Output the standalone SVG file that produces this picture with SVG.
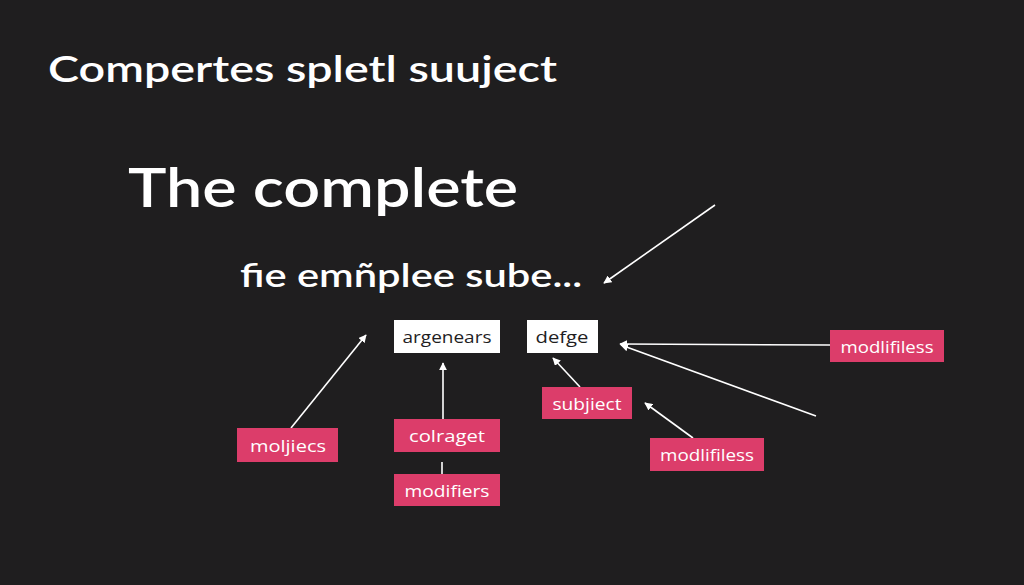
<svg xmlns="http://www.w3.org/2000/svg" width="1024" height="585" viewBox="0 0 1024 585">
<style>
.bg{fill:#1f1e1f}
.h{fill:#ffffff;font-family:Lato,"Open Sans",sans-serif;font-weight:600}
.wbox{fill:#ffffff}
.pbox{fill:#dc3d6a}
.wt{fill:#1f1e1f;font-family:"Open Sans",Lato,sans-serif;font-size:17px;text-anchor:middle}
.pt{fill:#ffffff;font-family:"Open Sans",Lato,sans-serif;font-size:17px;text-anchor:middle}
.c{stroke:#ffffff;stroke-width:1.6;fill:none}
</style>
<defs>
<marker id="ah" viewBox="0 0 10 10" refX="9" refY="5" markerWidth="8" markerHeight="8" markerUnits="userSpaceOnUse" orient="auto">
<path d="M0,0 L10,5 L0,10 z" fill="#ffffff"/>
</marker>
</defs>
<rect class="bg" x="0" y="0" width="1024" height="585"/>
<g id="titles">
<text class="h" x="48" y="82" font-size="36" textLength="509" lengthAdjust="spacingAndGlyphs">Compertes spletl suuject</text>
<text class="h" x="128" y="207" font-size="54" textLength="390" lengthAdjust="spacingAndGlyphs">The complete</text>
<text class="h" x="240" y="287" font-size="33" textLength="342" lengthAdjust="spacingAndGlyphs">fie emñplee sube...</text>
</g>
<g id="connectors">
<line class="c" x1="291" y1="428" x2="366" y2="335" marker-end="url(#ah)"/>
<line class="c" x1="443" y1="419" x2="443" y2="363" marker-end="url(#ah)"/>
<line class="c" x1="442" y1="462" x2="442" y2="474"/>
<line class="c" x1="580" y1="387" x2="553" y2="358" marker-end="url(#ah)"/>
<line class="c" x1="693" y1="438" x2="645" y2="403" marker-end="url(#ah)"/>
<line class="c" x1="830" y1="345" x2="620" y2="344" marker-end="url(#ah)"/>
<line class="c" x1="816" y1="416" x2="621" y2="345" marker-end="url(#ah)"/>
<line class="c" x1="715" y1="205" x2="604" y2="283" marker-end="url(#ah)"/>
</g>
<g id="argenears"><rect class="wbox" x="394" y="320" width="106" height="33"/><text class="wt" x="447" y="343" textLength="89" lengthAdjust="spacingAndGlyphs">argenears</text></g>
<g id="defge"><rect class="wbox" x="527" y="320" width="71" height="33"/><text class="wt" x="562" y="343" textLength="53" lengthAdjust="spacingAndGlyphs">defge</text></g>
<g id="moljiecs"><rect class="pbox" x="237" y="428" width="101" height="34"/><text class="pt" x="288" y="452" textLength="76" lengthAdjust="spacingAndGlyphs">moljiecs</text></g>
<g id="colraget"><rect class="pbox" x="394" y="419" width="106" height="33"/><text class="pt" x="447" y="442" textLength="76" lengthAdjust="spacingAndGlyphs">colraget</text></g>
<g id="modifiers"><rect class="pbox" x="394" y="474" width="106" height="32"/><text class="pt" x="447" y="497" textLength="85" lengthAdjust="spacingAndGlyphs">modifiers</text></g>
<g id="subjiect"><rect class="pbox" x="542" y="387" width="90" height="32"/><text class="pt" x="587" y="410" textLength="69" lengthAdjust="spacingAndGlyphs">subjiect</text></g>
<g id="modlifiless1"><rect class="pbox" x="650" y="438" width="114" height="33"/><text class="pt" x="707" y="461" textLength="94" lengthAdjust="spacingAndGlyphs">modlifiless</text></g>
<g id="modlifiless2"><rect class="pbox" x="830" y="330" width="114" height="32"/><text class="pt" x="887" y="353" textLength="93" lengthAdjust="spacingAndGlyphs">modlifiless</text></g>
</svg>
